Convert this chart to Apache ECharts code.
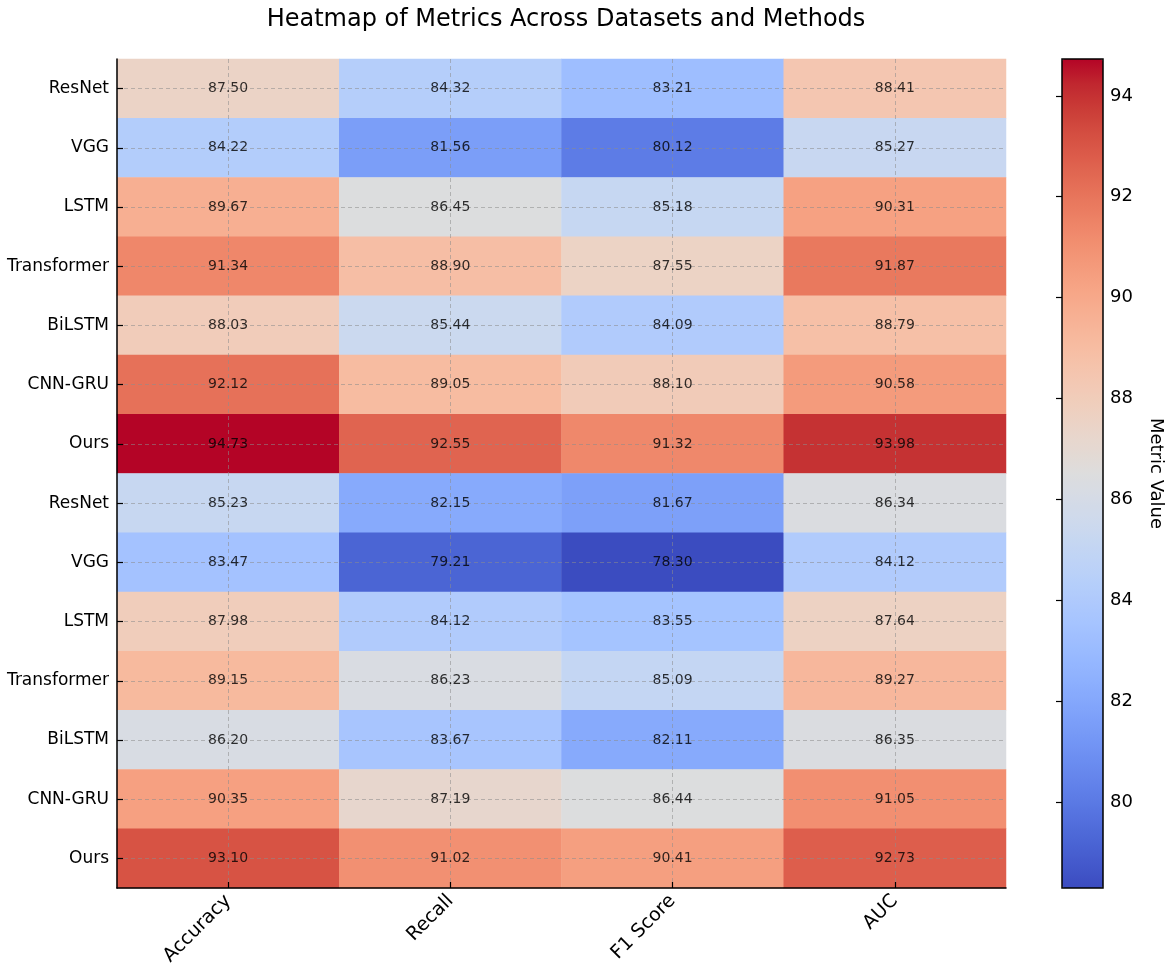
<!DOCTYPE html>
<html>
<head>
<meta charset="utf-8">
<script src="https://cdn.jsdelivr.net/npm/echarts@6/dist/echarts.min.js"></script>
<style>html,body{margin:0;padding:0;background:#fff}#c{width:1170px;height:979px}</style>
</head>
<body>
<div id="c"></div>
<script>
const methods = ['ResNet','VGG','LSTM','Transformer','BiLSTM','CNN-GRU','Ours','ResNet','VGG','LSTM','Transformer','BiLSTM','CNN-GRU','Ours'];
const metrics = ['Accuracy','Recall','F1 Score','AUC'];
const accuracy = [87.50,84.22,89.67,91.34,88.03,92.12,94.73,85.23,83.47,87.98,89.15,86.20,90.35,93.10];
const recall   = [84.32,81.56,86.45,88.90,85.44,89.05,92.55,82.15,79.21,84.12,86.23,83.67,87.19,91.02];
const f1Score  = [83.21,80.12,85.18,87.55,84.09,88.10,91.32,81.67,78.30,83.55,85.09,82.11,86.44,90.41];
const auc      = [88.41,85.27,90.31,91.87,88.79,90.58,93.98,86.34,84.12,87.64,89.27,86.35,91.05,92.73];
const colorbarTicks = [80,82,84,86,88,90,92,94];
const valueMin = 78.30, valueMax = 94.73;

const coolwarm = ['#3b4cc0','#445acc','#4d68d7','#5775e1','#6282ea','#6c8ef1','#779af7','#82a5fb','#8db0fe','#98b9ff','#a3c2ff','#aec9fd','#b8d0f9','#c2d5f4','#ccd9ee','#d5dbe6','#dddddd','#e5d8d1','#ecd3c5','#f1ccb9','#f5c4ad','#f7bba0','#f7b194','#f7a687','#f49a7b','#f18d6f','#ec7f63','#e57058','#de604d','#d55042','#cb3e38','#c0282f','#b40426'];

const columns = [accuracy, recall, f1Score, auc];
const cells = [];
columns.forEach((col, j) => col.forEach((v, i) => cells.push([j, i, v])));

const FONT = 'DejaVu Sans';
const chart = echarts.init(document.getElementById('c'));
chart.setOption({
  animation: false,
  backgroundColor: '#fff',
  textStyle: { fontFamily: FONT },
  title: {
    text: 'Heatmap of Metrics Across Datasets and Methods',
    left: 561, textAlign: 'center', top: 3,
    textStyle: { fontFamily: FONT, fontSize: 24, fontWeight: 'normal', color: '#000' }
  },
  grid: [
    { left: 117, top: 59, width: 889, height: 829, containLabel: false },
    { left: 1062, top: 59, width: 41, height: 829, show: true, borderColor: '#000', borderWidth: 1.5, backgroundColor: 'transparent', z: 10 }
  ],
  xAxis: [
    { type: 'category', gridIndex: 0, data: metrics, z: 5,
      axisLine: { show: true, lineStyle: { color: '#000', width: 1.5 } },
      axisTick: { show: true, inside: true, alignWithLabel: true, length: 6, lineStyle: { color: '#000', width: 1.2 } },
      axisLabel: { rotate: 45, fontSize: 19, color: '#000', margin: 10, fontFamily: FONT },
      splitLine: { show: false } },
    { type: 'value', gridIndex: 1, show: false, min: 0, max: 1 }
  ],
  yAxis: [
    { type: 'category', gridIndex: 0, data: methods, inverse: true, z: 5,
      axisLine: { show: true, lineStyle: { color: '#000', width: 1.5 } },
      axisTick: { show: true, inside: true, alignWithLabel: true, length: 6, lineStyle: { color: '#000', width: 1.2 } },
      axisLabel: { fontSize: 17, color: '#000', margin: 8, fontFamily: FONT },
      splitLine: { show: false } },
    { type: 'value', gridIndex: 1, position: 'right', min: valueMin, max: valueMax, z: 11,
      name: 'Metric Value', nameLocation: 'middle', nameRotate: -90, nameGap: 44,
      nameTextStyle: { fontSize: 18, color: '#000', fontFamily: FONT },
      axisLine: { show: false },
      axisTick: { show: true, inside: true, length: 6, customValues: colorbarTicks, lineStyle: { color: '#000', width: 1.2 } },
      axisLabel: { fontSize: 18, color: '#000', margin: 7, customValues: colorbarTicks, fontFamily: FONT },
      splitLine: { show: false } }
  ],
  visualMap: {
    type: 'continuous', min: valueMin, max: valueMax, dimension: 2, seriesIndex: 0,
    calculable: false, hoverLink: false, realtime: false, showLabel: false, text: null,
    left: 1062, top: 59, itemWidth: 41, itemHeight: 829, padding: 0, orient: 'vertical',
    inRange: { color: coolwarm }
  },
  series: [
    { type: 'heatmap', xAxisIndex: 0, yAxisIndex: 0, data: cells, z: 2, silent: true,
      itemStyle: { borderWidth: 0 }, label: { show: false }, emphasis: { disabled: true } },
    { type: 'scatter', xAxisIndex: 0, yAxisIndex: 0, data: cells, z: 3, silent: true,
      symbolSize: 0, itemStyle: { color: 'transparent' }, label: { show: false },
      markLine: {
        silent: true, symbol: ['none', 'none'], label: { show: false },
        lineStyle: { color: 'rgba(140,140,140,0.55)', width: 1, type: [4, 3] },
        emphasis: { disabled: true },
        data: [...metrics.map((m, j) => ({ xAxis: j })), ...methods.map((m, i) => ({ yAxis: i }))]
      } },
    { type: 'scatter', xAxisIndex: 0, yAxisIndex: 0, data: cells, z: 10, silent: true,
      symbol: 'circle', symbolSize: 2, itemStyle: { color: 'transparent' },
      label: { show: true, position: 'inside', color: '#000', fontSize: 14, fontFamily: FONT,
        formatter: p => p.value[2].toFixed(2) } }
  ]
});
</script>
</body>
</html>
